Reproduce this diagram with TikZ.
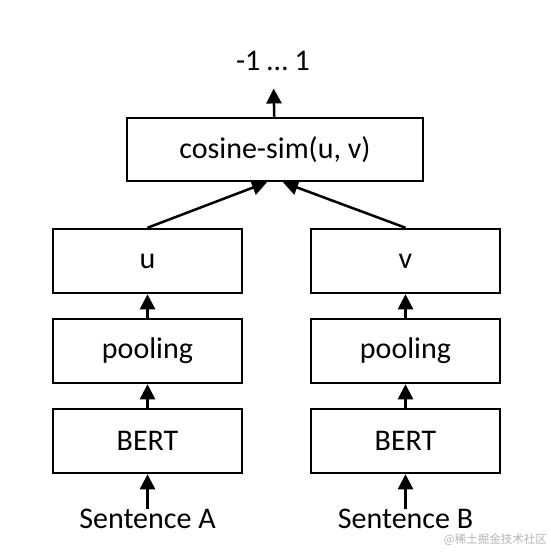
\documentclass[tikz,border=0pt]{standalone}
\usepackage{fontspec}
\setmainfont{Carlito}
\newfontfamily\cjk{Noto Sans CJK SC}
\usepackage{tikz}
\usetikzlibrary{arrows.meta, positioning}
\definecolor{inkblack}{HTML}{000000}
\definecolor{markgray}{HTML}{B4B4B4}

\begin{document}
\begin{tikzpicture}[x=1pt, y=-1pt,
  node distance=23.5pt,
  block/.style={draw=inkblack, line width=2.5pt, minimum width=189pt,
                minimum height=64pt, inner sep=0pt, align=center,
                font=\fontsize{30}{36}\selectfont},
  flow/.style={draw=inkblack, line width=2.5pt, -{Triangle[length=15pt, width=15pt]}},
  caption/.style={font=\fontsize{30}{36}\selectfont, inner xsep=0pt},
  wmtext/.style={font=\cjk\fontsize{11.5}{14}\selectfont, text=markgray, inner sep=0pt},
]
\useasboundingbox (0,0) rectangle (551,555);

\node[block, minimum width=296pt, minimum height=63pt] (cos) at (275,149.5) {cosine-sim(u, v)};
\node[caption, anchor=base, inner ysep=18pt] (out) at (273,70) {-1 … 1};

\node[block] (uA) at (147.5,261) {u};
\node[block, below=of uA] (poolA) {pooling};
\node[block, below=of poolA] (bertA) {BERT};
\node[caption, below=35pt of bertA, inner ysep=0pt] (sentA) {Sentence A};

\node[block] (vB) at (405.5,261) {v};
\node[block, below=of vB] (poolB) {pooling};
\node[block, below=of poolB] (bertB) {BERT};
\node[caption, below=35pt of bertB, inner ysep=0pt] (sentB) {Sentence B};

\node[wmtext, anchor=south east] (wm) at (547,546) {@稀土掘金技术社区};

\draw[flow] (cos) -- (out);
\draw[flow] (uA.north) -- ([xshift=-8pt]cos.south);
\draw[flow] (vB.north) -- ([xshift=8pt]cos.south);
\draw[flow] (poolA) -- (uA);
\draw[flow] (bertA) -- (poolA);
\draw[flow] (sentA) -- (bertA);
\draw[flow] (poolB) -- (vB);
\draw[flow] (bertB) -- (poolB);
\draw[flow] (sentB) -- (bertB);

\end{tikzpicture}
\end{document}
